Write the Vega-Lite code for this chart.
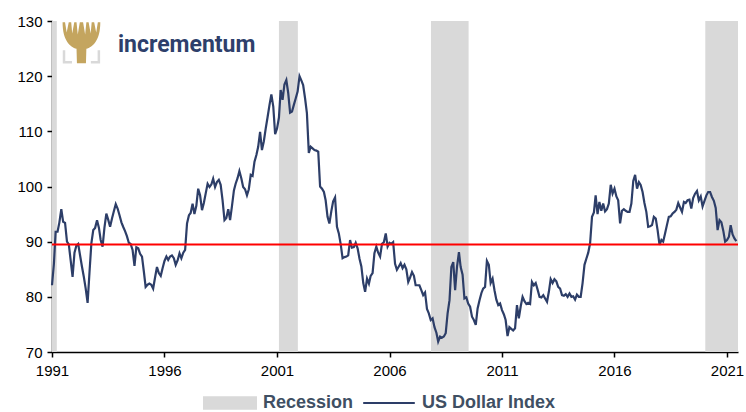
{
  "$schema": "https://vega.github.io/schema/vega-lite/v6.json",
  "autosize": "none",
  "width": 686,
  "height": 331,
  "padding": {"left": 52, "top": 21, "right": 8, "bottom": 60},
  "background": "white",
  "datasets": {
    "recessions": [
      {"start": "1991-01-01", "end": "1991-03-20", "kind": "Recession"},
      {"start": "2001-02-01", "end": "2001-12-05", "kind": "Recession"},
      {"start": "2007-11-05", "end": "2009-07-08", "kind": "Recession"},
      {"start": "2020-01-14", "end": "2021-06-28", "kind": "Recession"}
    ],
    "usd": [
      {"d":"1991-01-01","v":82.1},{"d":"1991-02-01","v":86.0},{"d":"1991-03-01","v":91.8},{"d":"1991-04-01","v":91.8},{"d":"1991-05-01","v":93.5},{"d":"1991-06-01","v":95.9},{"d":"1991-07-01","v":93.6},{"d":"1991-08-01","v":93.4},{"d":"1991-09-01","v":90.0},{"d":"1991-10-01","v":89.5},{"d":"1991-11-01","v":86.5},{"d":"1991-12-01","v":83.6},
      {"d":"1992-01-01","v":88.0},{"d":"1992-02-01","v":89.3},{"d":"1992-03-01","v":89.6},{"d":"1992-04-01","v":87.5},{"d":"1992-05-01","v":85.5},{"d":"1992-06-01","v":83.6},{"d":"1992-07-01","v":81.5},{"d":"1992-08-01","v":78.9},{"d":"1992-09-01","v":84.5},{"d":"1992-10-01","v":89.7},{"d":"1992-11-01","v":92.1},{"d":"1992-12-01","v":92.5},
      {"d":"1993-01-01","v":93.9},{"d":"1993-02-01","v":92.5},{"d":"1993-03-01","v":90.3},{"d":"1993-04-01","v":89.1},{"d":"1993-05-01","v":92.5},{"d":"1993-06-01","v":95.1},{"d":"1993-07-01","v":94.0},{"d":"1993-08-01","v":92.7},{"d":"1993-09-01","v":94.2},{"d":"1993-10-01","v":95.5},{"d":"1993-11-01","v":96.8},{"d":"1993-12-01","v":96.0},
      {"d":"1994-01-01","v":94.8},{"d":"1994-02-01","v":93.5},{"d":"1994-03-01","v":92.7},{"d":"1994-04-01","v":91.9},{"d":"1994-05-01","v":91.0},{"d":"1994-06-01","v":89.8},{"d":"1994-07-01","v":89.6},{"d":"1994-08-01","v":88.5},{"d":"1994-09-01","v":85.6},{"d":"1994-10-01","v":89.0},{"d":"1994-11-01","v":88.8},{"d":"1994-12-01","v":87.8},
      {"d":"1995-01-01","v":87.3},{"d":"1995-02-01","v":84.5},{"d":"1995-03-01","v":81.8},{"d":"1995-04-01","v":82.2},{"d":"1995-05-01","v":82.4},{"d":"1995-06-01","v":82.2},{"d":"1995-07-01","v":81.5},{"d":"1995-08-01","v":83.5},{"d":"1995-09-01","v":85.4},{"d":"1995-10-01","v":84.3},{"d":"1995-11-01","v":83.8},{"d":"1995-12-01","v":85.2},
      {"d":"1996-01-01","v":86.5},{"d":"1996-02-01","v":87.3},{"d":"1996-03-01","v":86.7},{"d":"1996-04-01","v":87.3},{"d":"1996-05-01","v":87.5},{"d":"1996-06-01","v":87.0},{"d":"1996-07-01","v":85.8},{"d":"1996-08-01","v":86.6},{"d":"1996-09-01","v":87.9},{"d":"1996-10-01","v":87.0},{"d":"1996-11-01","v":88.0},{"d":"1996-12-01","v":88.5},
      {"d":"1997-01-01","v":93.3},{"d":"1997-02-01","v":94.8},{"d":"1997-03-01","v":95.2},{"d":"1997-04-01","v":96.9},{"d":"1997-05-01","v":95.0},{"d":"1997-06-01","v":96.5},{"d":"1997-07-01","v":99.6},{"d":"1997-08-01","v":98.4},{"d":"1997-09-01","v":95.7},{"d":"1997-10-01","v":97.0},{"d":"1997-11-01","v":98.8},{"d":"1997-12-01","v":100.5},
      {"d":"1998-01-01","v":99.9},{"d":"1998-02-01","v":100.4},{"d":"1998-03-01","v":101.4},{"d":"1998-04-01","v":99.9},{"d":"1998-05-01","v":100.8},{"d":"1998-06-01","v":101.2},{"d":"1998-07-01","v":100.3},{"d":"1998-08-01","v":97.5},{"d":"1998-09-01","v":93.9},{"d":"1998-10-01","v":94.3},{"d":"1998-11-01","v":95.9},{"d":"1998-12-01","v":93.9},
      {"d":"1999-01-01","v":96.5},{"d":"1999-02-01","v":99.3},{"d":"1999-03-01","v":100.5},{"d":"1999-04-01","v":101.5},{"d":"1999-05-01","v":102.8},{"d":"1999-06-01","v":101.5},{"d":"1999-07-01","v":99.9},{"d":"1999-08-01","v":99.5},{"d":"1999-09-01","v":98.4},{"d":"1999-10-01","v":99.5},{"d":"1999-11-01","v":102.1},{"d":"1999-12-01","v":101.9},
      {"d":"2000-01-01","v":104.5},{"d":"2000-02-01","v":105.7},{"d":"2000-03-01","v":107.2},{"d":"2000-04-01","v":109.9},{"d":"2000-05-01","v":106.6},{"d":"2000-06-01","v":108.2},{"d":"2000-07-01","v":110.5},{"d":"2000-08-01","v":112.6},{"d":"2000-09-01","v":114.8},{"d":"2000-10-01","v":116.7},{"d":"2000-11-01","v":114.5},{"d":"2000-12-01","v":109.5},
      {"d":"2001-01-01","v":110.5},{"d":"2001-02-01","v":112.5},{"d":"2001-03-01","v":117.5},{"d":"2001-04-01","v":115.7},{"d":"2001-05-01","v":118.5},{"d":"2001-06-01","v":119.3},{"d":"2001-07-01","v":117.0},{"d":"2001-08-01","v":113.4},{"d":"2001-09-01","v":113.6},{"d":"2001-10-01","v":114.8},{"d":"2001-11-01","v":116.0},{"d":"2001-12-01","v":117.2},
      {"d":"2002-01-01","v":120.0},{"d":"2002-02-01","v":119.2},{"d":"2002-03-01","v":118.4},{"d":"2002-04-01","v":116.0},{"d":"2002-05-01","v":113.3},{"d":"2002-06-01","v":106.1},{"d":"2002-07-01","v":107.2},{"d":"2002-08-01","v":106.9},{"d":"2002-09-01","v":106.6},{"d":"2002-10-01","v":106.5},{"d":"2002-11-01","v":106.3},{"d":"2002-12-01","v":100.0},
      {"d":"2003-01-01","v":99.6},{"d":"2003-02-01","v":99.0},{"d":"2003-03-01","v":97.5},{"d":"2003-04-01","v":94.5},{"d":"2003-05-01","v":93.3},{"d":"2003-06-01","v":95.5},{"d":"2003-07-01","v":97.3},{"d":"2003-08-01","v":98.0},{"d":"2003-09-01","v":92.7},{"d":"2003-10-01","v":91.5},{"d":"2003-11-01","v":89.5},{"d":"2003-12-01","v":87.0},
      {"d":"2004-01-01","v":87.2},{"d":"2004-02-01","v":87.3},{"d":"2004-03-01","v":87.5},{"d":"2004-04-01","v":90.3},{"d":"2004-05-01","v":88.9},{"d":"2004-06-01","v":89.0},{"d":"2004-07-01","v":89.8},{"d":"2004-08-01","v":88.8},{"d":"2004-09-01","v":86.9},{"d":"2004-10-01","v":85.5},{"d":"2004-11-01","v":82.5},{"d":"2004-12-01","v":80.9},
      {"d":"2005-01-01","v":83.3},{"d":"2005-02-01","v":82.4},{"d":"2005-03-01","v":83.8},{"d":"2005-04-01","v":84.3},{"d":"2005-05-01","v":87.9},{"d":"2005-06-01","v":89.1},{"d":"2005-07-01","v":88.0},{"d":"2005-08-01","v":87.3},{"d":"2005-09-01","v":89.6},{"d":"2005-10-01","v":89.9},{"d":"2005-11-01","v":91.5},{"d":"2005-12-01","v":89.1},
      {"d":"2006-01-01","v":89.8},{"d":"2006-02-01","v":89.6},{"d":"2006-03-01","v":89.9},{"d":"2006-04-01","v":86.0},{"d":"2006-05-01","v":84.9},{"d":"2006-06-01","v":85.5},{"d":"2006-07-01","v":86.1},{"d":"2006-08-01","v":85.2},{"d":"2006-09-01","v":85.8},{"d":"2006-10-01","v":85.0},{"d":"2006-11-01","v":82.7},{"d":"2006-12-01","v":83.5},
      {"d":"2007-01-01","v":84.5},{"d":"2007-02-01","v":83.8},{"d":"2007-03-01","v":82.1},{"d":"2007-04-01","v":82.1},{"d":"2007-05-01","v":82.1},{"d":"2007-06-01","v":81.2},{"d":"2007-07-01","v":80.3},{"d":"2007-08-01","v":80.8},{"d":"2007-09-01","v":77.8},{"d":"2007-10-01","v":77.0},{"d":"2007-11-01","v":75.8},{"d":"2007-12-01","v":76.1},
      {"d":"2008-01-01","v":74.5},{"d":"2008-02-01","v":73.5},{"d":"2008-03-01","v":71.9},{"d":"2008-04-01","v":72.8},{"d":"2008-05-01","v":72.6},{"d":"2008-06-01","v":72.8},{"d":"2008-07-01","v":73.4},{"d":"2008-08-01","v":77.0},{"d":"2008-09-01","v":79.4},{"d":"2008-10-01","v":85.4},{"d":"2008-11-01","v":86.3},{"d":"2008-12-01","v":81.2},
      {"d":"2009-01-01","v":85.5},{"d":"2009-02-01","v":88.1},{"d":"2009-03-01","v":85.4},{"d":"2009-04-01","v":84.0},{"d":"2009-05-01","v":79.7},{"d":"2009-06-01","v":79.9},{"d":"2009-07-01","v":78.8},{"d":"2009-08-01","v":78.2},{"d":"2009-09-01","v":76.4},{"d":"2009-10-01","v":75.8},{"d":"2009-11-01","v":74.9},{"d":"2009-12-01","v":77.9},
      {"d":"2010-01-01","v":79.4},{"d":"2010-02-01","v":80.7},{"d":"2010-03-01","v":81.5},{"d":"2010-04-01","v":81.8},{"d":"2010-05-01","v":86.5},{"d":"2010-06-01","v":85.8},{"d":"2010-07-01","v":82.5},{"d":"2010-08-01","v":83.3},{"d":"2010-09-01","v":81.2},{"d":"2010-10-01","v":79.5},{"d":"2010-11-01","v":78.5},{"d":"2010-12-01","v":78.8},
      {"d":"2011-01-01","v":77.6},{"d":"2011-02-01","v":76.8},{"d":"2011-03-01","v":75.8},{"d":"2011-04-01","v":72.9},{"d":"2011-05-01","v":74.5},{"d":"2011-06-01","v":74.2},{"d":"2011-07-01","v":73.9},{"d":"2011-08-01","v":74.3},{"d":"2011-09-01","v":78.5},{"d":"2011-10-01","v":76.1},{"d":"2011-11-01","v":78.3},{"d":"2011-12-01","v":80.0},
      {"d":"2012-01-01","v":79.2},{"d":"2012-02-01","v":78.7},{"d":"2012-03-01","v":78.9},{"d":"2012-04-01","v":78.7},{"d":"2012-05-01","v":82.7},{"d":"2012-06-01","v":82.1},{"d":"2012-07-01","v":82.5},{"d":"2012-08-01","v":81.3},{"d":"2012-09-01","v":80.0},{"d":"2012-10-01","v":79.9},{"d":"2012-11-01","v":80.3},{"d":"2012-12-01","v":79.7},
      {"d":"2013-01-01","v":79.1},{"d":"2013-02-01","v":81.0},{"d":"2013-03-01","v":83.2},{"d":"2013-04-01","v":82.5},{"d":"2013-05-01","v":83.2},{"d":"2013-06-01","v":82.8},{"d":"2013-07-01","v":81.8},{"d":"2013-08-01","v":81.5},{"d":"2013-09-01","v":80.3},{"d":"2013-10-01","v":80.2},{"d":"2013-11-01","v":80.5},{"d":"2013-12-01","v":80.0},
      {"d":"2014-01-01","v":80.6},{"d":"2014-02-01","v":80.0},{"d":"2014-03-01","v":80.1},{"d":"2014-04-01","v":79.5},{"d":"2014-05-01","v":80.4},{"d":"2014-06-01","v":80.0},{"d":"2014-07-01","v":80.0},{"d":"2014-08-01","v":82.5},{"d":"2014-09-01","v":85.8},{"d":"2014-10-01","v":86.9},{"d":"2014-11-01","v":88.0},{"d":"2014-12-01","v":89.7},
      {"d":"2015-01-01","v":94.5},{"d":"2015-02-01","v":95.3},{"d":"2015-03-01","v":98.4},{"d":"2015-04-01","v":95.0},{"d":"2015-05-01","v":97.2},{"d":"2015-06-01","v":95.6},{"d":"2015-07-01","v":96.9},{"d":"2015-08-01","v":95.5},{"d":"2015-09-01","v":95.9},{"d":"2015-10-01","v":96.9},{"d":"2015-11-01","v":100.3},{"d":"2015-12-01","v":98.7},
      {"d":"2016-01-01","v":99.6},{"d":"2016-02-01","v":98.2},{"d":"2016-03-01","v":97.5},{"d":"2016-04-01","v":93.3},{"d":"2016-05-01","v":95.6},{"d":"2016-06-01","v":95.9},{"d":"2016-07-01","v":95.6},{"d":"2016-08-01","v":95.4},{"d":"2016-09-01","v":95.4},{"d":"2016-10-01","v":96.9},{"d":"2016-11-01","v":101.0},{"d":"2016-12-01","v":102.1},
      {"d":"2017-01-01","v":99.6},{"d":"2017-02-01","v":100.8},{"d":"2017-03-01","v":100.3},{"d":"2017-04-01","v":99.0},{"d":"2017-05-01","v":97.0},{"d":"2017-06-01","v":95.4},{"d":"2017-07-01","v":92.7},{"d":"2017-08-01","v":92.8},{"d":"2017-09-01","v":93.0},{"d":"2017-10-01","v":94.5},{"d":"2017-11-01","v":94.2},{"d":"2017-12-01","v":92.1},
      {"d":"2018-01-01","v":89.4},{"d":"2018-02-01","v":90.3},{"d":"2018-03-01","v":90.0},{"d":"2018-04-01","v":91.5},{"d":"2018-05-01","v":93.0},{"d":"2018-06-01","v":94.5},{"d":"2018-07-01","v":94.6},{"d":"2018-08-01","v":95.1},{"d":"2018-09-01","v":95.4},{"d":"2018-10-01","v":95.8},{"d":"2018-11-01","v":97.0},{"d":"2018-12-01","v":96.2},
      {"d":"2019-01-01","v":95.4},{"d":"2019-02-01","v":97.2},{"d":"2019-03-01","v":97.0},{"d":"2019-04-01","v":97.5},{"d":"2019-05-01","v":97.6},{"d":"2019-06-01","v":96.0},{"d":"2019-07-01","v":97.9},{"d":"2019-08-01","v":98.7},{"d":"2019-09-01","v":99.2},{"d":"2019-10-01","v":97.5},{"d":"2019-11-01","v":98.2},{"d":"2019-12-01","v":96.4},
      {"d":"2020-01-01","v":97.4},{"d":"2020-02-01","v":98.4},{"d":"2020-03-01","v":99.0},{"d":"2020-04-01","v":99.0},{"d":"2020-05-01","v":98.1},{"d":"2020-06-01","v":97.4},{"d":"2020-07-01","v":96.1},{"d":"2020-08-01","v":92.1},{"d":"2020-09-01","v":93.9},{"d":"2020-10-01","v":93.5},{"d":"2020-11-01","v":92.0},{"d":"2020-12-01","v":90.0},
      {"d":"2021-01-01","v":90.3},{"d":"2021-02-01","v":90.9},{"d":"2021-03-01","v":93.0},{"d":"2021-04-01","v":91.3},{"d":"2021-05-01","v":90.6},{"d":"2021-06-01","v":90.1}
    ],
    "level": [{"level": 89.5}],
    "brand": [{"d": "1993-12-07", "v": 124.35, "label": "incrementum"}],
    "icon": [{"d": "1992-04-23", "v": 126.07}]
  },
  "encoding": {
    "x": {
      "type": "temporal",
      "scale": {"domain": ["1991-01-01", "2021-06-28"]},
      "axis": {
        "values": [{"year": 1991}, {"year": 1996}, {"year": 2001}, {"year": 2006}, {"year": 2011}, {"year": 2016}, {"year": 2021}],
        "format": "%Y",
        "labelPadding": 6,
        "labelFlush": false,
        "title": null
      }
    }
  },
  "layer": [
    {
      "data": {"name": "recessions"},
      "mark": {"type": "rect"},
      "encoding": {
        "x": {"field": "start", "type": "temporal"},
        "x2": {"field": "end"},
        "fill": {
          "field": "kind",
          "type": "nominal",
          "scale": {"domain": ["Recession"], "range": ["#d9d9d9"]},
          "legend": {
            "orient": "none",
            "legendX": 151,
            "legendY": 355,
            "title": null,
            "padding": 0,
            "symbolType": "M-1,-0.25H1V0.25H-1Z",
            "symbolSize": 2916,
            "symbolStrokeWidth": 0,
            "symbolOpacity": 1,
            "labelOffset": 6
          }
        }
      }
    },
    {
      "data": {"name": "usd"},
      "mark": {"type": "line", "strokeWidth": 2.2, "interpolate": "linear"},
      "encoding": {
        "x": {"field": "d", "type": "temporal"},
        "y": {
          "field": "v",
          "type": "quantitative",
          "scale": {"domain": [70, 130], "nice": false, "zero": false},
          "axis": {"values": [70, 80, 90, 100, 110, 120, 130], "labelPadding": 5, "title": null}
        },
        "stroke": {
          "datum": "US Dollar Index",
          "scale": {"domain": ["US Dollar Index"], "range": ["#2d3e68"]},
          "legend": {
            "orient": "none",
            "legendX": 310,
            "legendY": 355,
            "title": null,
            "padding": 0,
            "symbolType": "stroke",
            "symbolSize": 2663,
            "symbolStrokeWidth": 2,
            "labelOffset": 6
          }
        }
      }
    },
    {
      "data": {"name": "level"},
      "mark": {"type": "rule", "color": "#ff0000", "strokeWidth": 2},
      "encoding": {"y": {"field": "level", "type": "quantitative"}}
    },
    {
      "data": {"name": "brand"},
      "mark": {"type": "text", "align": "left", "baseline": "alphabetic", "font": "Roboto", "fontWeight": "bold", "fontSize": 23, "color": "#2e3f6b"},
      "encoding": {
        "x": {"field": "d", "type": "temporal"},
        "y": {"field": "v", "type": "quantitative"},
        "text": {"field": "label"}
      }
    },
    {
      "data": {"name": "icon"},
      "mark": {"type": "point", "shape": "M-0.85,0.37L-0.85,0.95L-0.46,0.95M0.85,0.37L0.85,0.95L0.46,0.95", "size": 1681, "filled": false, "stroke": "#d9d9d9", "strokeWidth": 2.5, "opacity": 1},
      "encoding": {
        "x": {"field": "d", "type": "temporal"},
        "y": {"field": "v", "type": "quantitative"}
      }
    },
    {
      "data": {"name": "icon"},
      "mark": {"type": "point", "shape": "M-0.22,1L-0.24,0.3C-0.55,0.2,-0.92,-0.1,-0.92,-1L-0.8,-1L-0.72,-0.5L-0.62,-1L-0.5,-1L-0.45,-0.45L-0.35,-1L-0.24,-1L-0.18,-0.4L-0.08,-1L0.08,-1L0.18,-0.4L0.24,-1L0.35,-1L0.45,-0.45L0.5,-1L0.62,-1L0.72,-0.5L0.8,-1L0.92,-1C0.92,-0.1,0.55,0.2,0.24,0.3L0.22,1Z", "size": 1681, "filled": true, "fill": "#c4a55f", "strokeWidth": 0, "opacity": 1},
      "encoding": {
        "x": {"field": "d", "type": "temporal"},
        "y": {"field": "v", "type": "quantitative"}
      }
    }
  ],
  "config": {
    "view": {"stroke": null},
    "axis": {
      "labelFont": "Liberation Sans",
      "labelFontSize": 15,
      "labelColor": "#000000",
      "domainColor": "#000000",
      "domainWidth": 1.5,
      "tickColor": "#000000",
      "tickWidth": 1.5,
      "tickSize": 5,
      "grid": false
    },
    "legend": {
      "labelFont": "Liberation Sans",
      "labelFontSize": 18,
      "labelFontWeight": "bold",
      "labelColor": "#404f63",
      "labelLimit": 300
    }
  }
}
